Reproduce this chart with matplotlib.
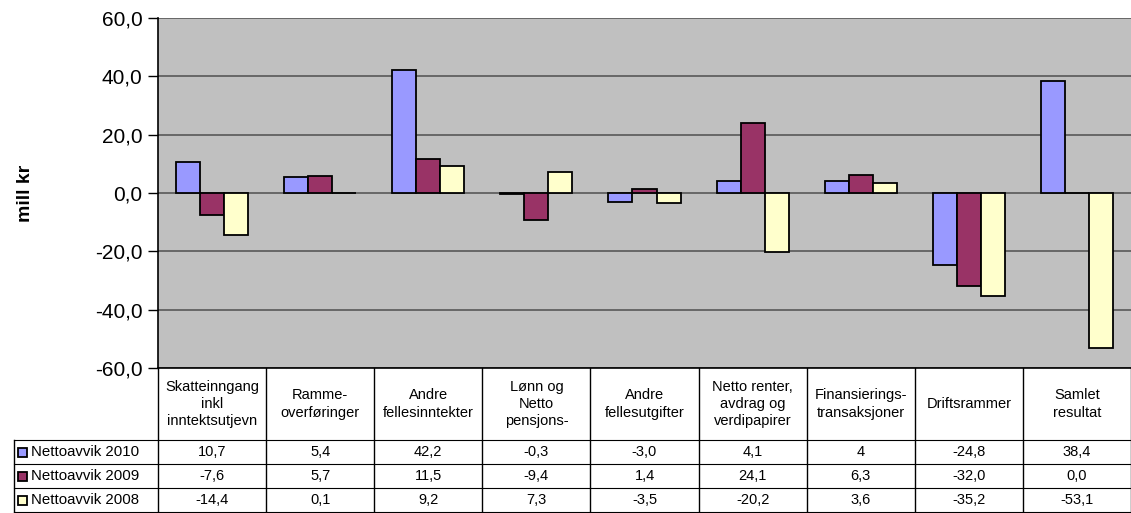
import numpy as np
import matplotlib
matplotlib.use("Agg")
import matplotlib.pyplot as plt
import matplotlib.transforms as mtransforms
from matplotlib.patches import Rectangle

plt.rcParams['font.family'] = ['Liberation Sans', 'DejaVu Sans']

# data
categories = ["Skatteinngang\ninkl\ninntektsutjevn", "Ramme-\noverføringer",
              "Andre\nfellesinntekter", "Lønn og\nNetto\npensjons-",
              "Andre\nfellesutgifter", "Netto renter,\navdrag og\nverdipapirer",
              "Finansierings-\ntransaksjoner", "Driftsrammer", "Samlet\nresultat"]
series_names = ["Nettoavvik 2010", "Nettoavvik 2009", "Nettoavvik 2008"]
avvik_2010 = [10.7, 5.4, 42.2, -0.3, -3.0, 4.1, 4, -24.8, 38.4]
avvik_2009 = [-7.6, 5.7, 11.5, -9.4, 1.4, 24.1, 6.3, -32.0, 0.0]
avvik_2008 = [-14.4, 0.1, 9.2, 7.3, -3.5, -20.2, 3.6, -35.2, -53.1]
colors = ["#9999FF", "#993366", "#FFFFCC"]
yticks = [-60, -40, -20, 0, 20, 40, 60]

W, H = 1131, 513
fig = plt.figure(figsize=(W / 100, H / 100), dpi=100)

# main plot area (pixel layout)
px_left, px_top, px_bottom, px_right = 158, 18, 368, 1131
ax = fig.add_axes([px_left / W, 1 - px_bottom / H, (px_right - px_left) / W, (px_bottom - px_top) / H])
ax.set_facecolor("#C0C0C0")

x = np.arange(len(categories))
w = 1 / 4.5
all_series = [avvik_2010, avvik_2009, avvik_2008]
for k, vals in enumerate(all_series):
    ax.bar(x + (k - 1) * w, vals, w, color=colors[k], edgecolor="black", linewidth=1.3, zorder=3)

ax.set_xlim(-0.5, len(categories) - 0.5)
ax.set_ylim(-60, 60)
ax.set_yticks(yticks)
ax.set_yticklabels([("%.1f" % t).replace(".", ",") for t in yticks], fontsize=15)
ax.set_xticks([])
ax.yaxis.grid(True, color="#606060", linewidth=1.3, zorder=0)
ax.set_axisbelow(True)
ax.tick_params(axis="y", direction="out", length=7, width=1, pad=4, colors="black")
for s in ["top", "right"]:
    ax.spines[s].set_visible(False)
ax.spines["left"].set_color("black")
ax.spines["bottom"].set_color("black")
ax.spines["left"].set_linewidth(1.2)
ax.spines["bottom"].set_linewidth(1.2)
ax.set_ylabel("mill kr", fontsize=14, fontweight="bold", labelpad=44)

# data table below the plot
tab = fig.add_axes([0, 0, 1, 1], zorder=-1)
tab.set_xlim(0, W)
tab.set_ylim(H, 0)
tab.axis("off")
tr = mtransforms.blended_transform_factory(ax.transData, tab.transData)

row_lines = [440, 464, 488, 512]
legend_left = 14
for b in np.arange(len(categories) + 1) - 0.5:
    tab.plot([b, b], [px_bottom, H], transform=tr, color="black", lw=1, clip_on=False)
tab.plot([legend_left, legend_left], [row_lines[0], H], color="black", lw=1)
for y in row_lines:
    tab.plot([legend_left, W], [y, y], color="black", lw=0.8)

for i, c in enumerate(categories):
    tab.text(i, (px_bottom + row_lines[0]) / 2, c, transform=tr, ha="center", va="center",
             fontsize=10.5, linespacing=1.3)

def fmt(v):
    if isinstance(v, int):
        return str(v)
    return ("%.1f" % v).replace(".", ",")

for k, vals in enumerate(all_series):
    yc = (row_lines[k] + row_lines[k + 1]) / 2
    tab.add_patch(Rectangle((18, yc - 4.5), 9, 9, facecolor=colors[k], edgecolor="black", lw=1.3))
    tab.text(31, yc, series_names[k], ha="left", va="center", fontsize=10.8)
    for i, v in enumerate(vals):
        tab.text(i, yc, fmt(v), transform=tr, ha="center", va="center", fontsize=10.5)

fig.savefig("out.png", dpi=100)
